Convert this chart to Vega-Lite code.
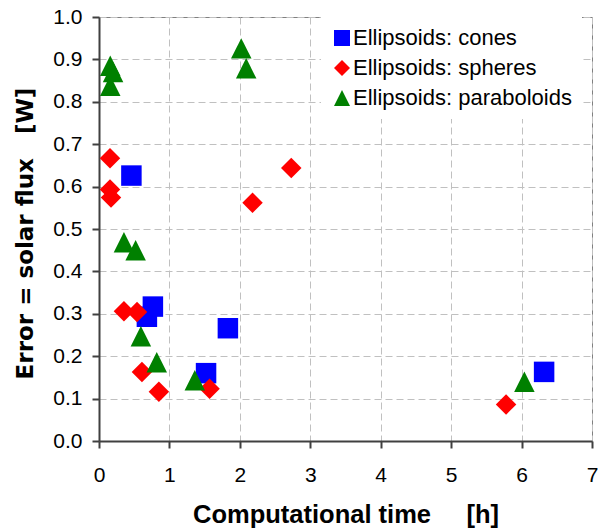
{
  "$schema": "https://vega.github.io/schema/vega-lite/v6.json",
  "width": 493,
  "height": 424,
  "autosize": {"type": "none"},
  "padding": {"left": 99, "top": 17, "right": 6, "bottom": 90},
  "background": "white",
  "config": {
    "font": "Liberation Sans",
    "view": {"stroke": "#808080", "strokeWidth": 1}
  },
  "data": {
    "values": [
      {"series": "Ellipsoids: cones", "t": 0.46, "err": 0.626},
      {"series": "Ellipsoids: cones", "t": 0.765, "err": 0.317},
      {"series": "Ellipsoids: cones", "t": 0.68, "err": 0.293},
      {"series": "Ellipsoids: cones", "t": 1.83, "err": 0.266},
      {"series": "Ellipsoids: cones", "t": 1.52, "err": 0.160},
      {"series": "Ellipsoids: cones", "t": 6.32, "err": 0.163},
      {"series": "Ellipsoids: spheres", "t": 0.156, "err": 0.667},
      {"series": "Ellipsoids: spheres", "t": 0.156, "err": 0.593},
      {"series": "Ellipsoids: spheres", "t": 0.17, "err": 0.574},
      {"series": "Ellipsoids: spheres", "t": 2.73, "err": 0.644},
      {"series": "Ellipsoids: spheres", "t": 2.18, "err": 0.562},
      {"series": "Ellipsoids: spheres", "t": 0.354, "err": 0.306},
      {"series": "Ellipsoids: spheres", "t": 0.54, "err": 0.304},
      {"series": "Ellipsoids: spheres", "t": 0.61, "err": 0.163},
      {"series": "Ellipsoids: spheres", "t": 0.85, "err": 0.116},
      {"series": "Ellipsoids: spheres", "t": 1.57, "err": 0.123},
      {"series": "Ellipsoids: spheres", "t": 5.78, "err": 0.086},
      {"series": "Ellipsoids: paraboloids", "t": 0.16, "err": 0.885},
      {"series": "Ellipsoids: paraboloids", "t": 0.2, "err": 0.870},
      {"series": "Ellipsoids: paraboloids", "t": 0.16, "err": 0.838},
      {"series": "Ellipsoids: paraboloids", "t": 2.02, "err": 0.926},
      {"series": "Ellipsoids: paraboloids", "t": 2.09, "err": 0.879},
      {"series": "Ellipsoids: paraboloids", "t": 0.354, "err": 0.469},
      {"series": "Ellipsoids: paraboloids", "t": 0.52, "err": 0.450},
      {"series": "Ellipsoids: paraboloids", "t": 0.595, "err": 0.247},
      {"series": "Ellipsoids: paraboloids", "t": 0.82, "err": 0.186},
      {"series": "Ellipsoids: paraboloids", "t": 1.36, "err": 0.143},
      {"series": "Ellipsoids: paraboloids", "t": 6.04, "err": 0.140}
    ]
  },
  "mark": {"type": "point", "filled": true, "opacity": 1, "size": 420},
  "encoding": {
    "x": {
      "field": "t",
      "type": "quantitative",
      "scale": {"domain": [0, 7], "nice": false, "zero": false},
      "axis": {
        "title": "Computational time\u00a0\u00a0\u00a0\u00a0 [h]",
        "values": [0, 1, 2, 3, 4, 5, 6, 7],
        "format": "d",
        "labelFontSize": 21,
        "labelColor": "#000000",
        "labelPadding": 16,
        "labelFlush": false,
        "tickSize": 7,
        "tickColor": "#404040",
        "tickWidth": 2,
        "domainColor": "#404040",
        "domainWidth": 2,
        "grid": true,
        "gridColor": "#C0C0C0",
        "gridDash": [7, 4],
        "gridWidth": 1,
        "titleFontSize": 25.5,
        "titleFontWeight": "bold",
        "titleColor": "#000000",
        "titlePadding": 17
      }
    },
    "y": {
      "field": "err",
      "type": "quantitative",
      "scale": {"domain": [0, 1], "nice": false},
      "axis": {
        "title": "Error = solar flux\u00a0\u00a0 [W]",
        "values": [0, 0.1, 0.2, 0.3, 0.4, 0.5, 0.6, 0.7, 0.8, 0.9, 1.0],
        "format": ".1f",
        "labelFontSize": 21,
        "labelColor": "#000000",
        "labelPadding": 10,
        "labelFlush": false,
        "tickSize": 7,
        "tickColor": "#404040",
        "tickWidth": 2,
        "domainColor": "#404040",
        "domainWidth": 2,
        "grid": true,
        "gridColor": "#C0C0C0",
        "gridDash": [7, 4],
        "gridWidth": 1,
        "titleFont": "DejaVu Sans",
        "titleFontSize": 23,
        "titleFontWeight": "bold",
        "titleColor": "#000000",
        "titleX": -74,
        "titleY": 216,
        "titleAngle": -90,
        "titleAlign": "center",
        "titleBaseline": "middle"
      }
    },
    "color": {
      "field": "series",
      "type": "nominal",
      "scale": {
        "domain": ["Ellipsoids: cones", "Ellipsoids: spheres", "Ellipsoids: paraboloids"],
        "range": ["#0000FF", "#FF0000", "#008000"]
      },
      "legend": {
        "title": null,
        "orient": "none",
        "legendX": 222,
        "legendY": 0,
        "fillColor": "white",
        "padding": 10,
        "labelFontSize": 22,
        "labelColor": "#000000",
        "labelOffset": 0,
        "labelLimit": 0,
        "rowPadding": 8,
        "symbolSize": 256,
        "symbolStrokeWidth": 0
      }
    },
    "shape": {
      "field": "series",
      "type": "nominal",
      "scale": {
        "domain": ["Ellipsoids: cones", "Ellipsoids: spheres", "Ellipsoids: paraboloids"],
        "range": ["square", "diamond", "M0,-1L1,1L-1,1Z"]
      },
      "legend": {
        "title": null,
        "orient": "none",
        "legendX": 222,
        "legendY": 0,
        "fillColor": "white",
        "padding": 10,
        "labelFontSize": 22,
        "labelColor": "#000000",
        "labelOffset": 0,
        "labelLimit": 0,
        "rowPadding": 8,
        "symbolSize": 256,
        "symbolStrokeWidth": 0
      }
    }
  }
}
